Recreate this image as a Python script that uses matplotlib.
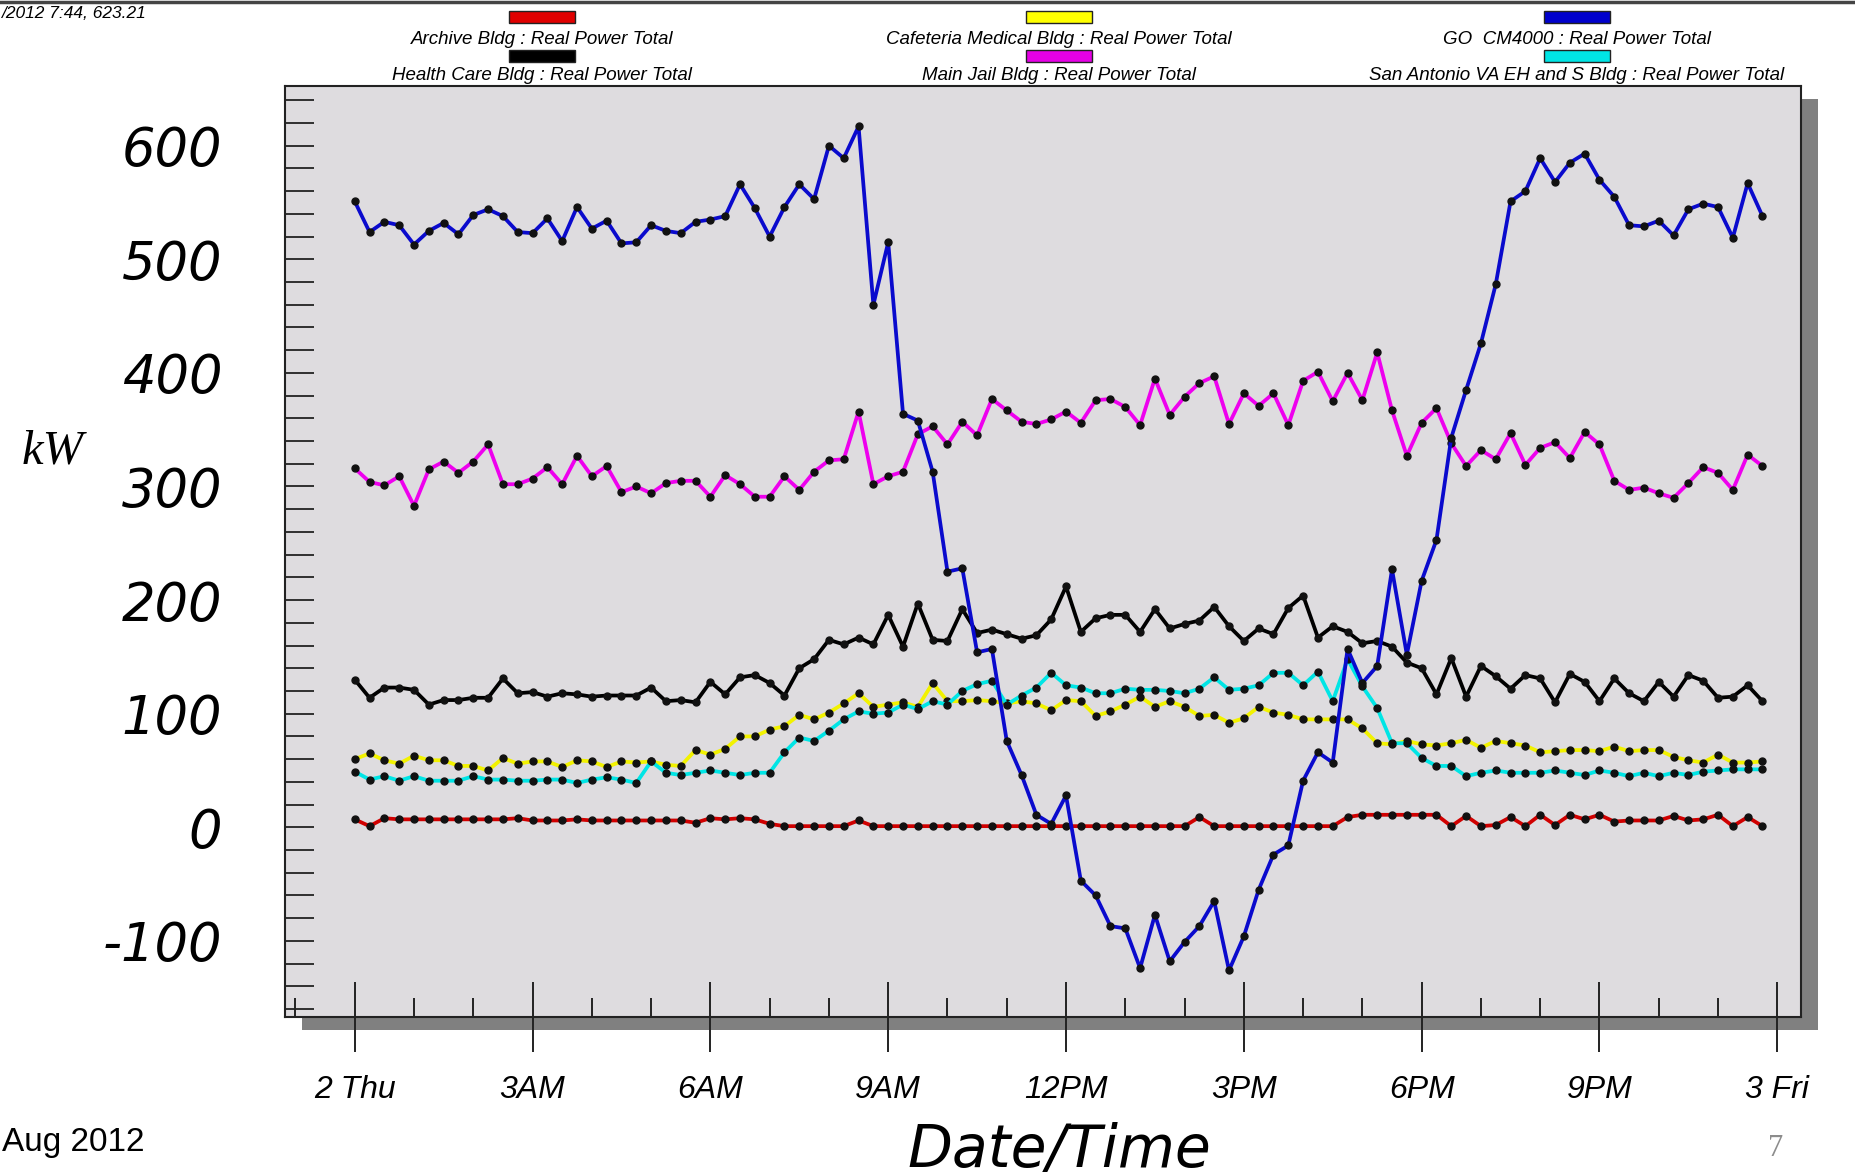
import datetime
import numpy as np
import pandas as pd
import matplotlib
matplotlib.use('Agg')
import matplotlib.pyplot as plt
import matplotlib.dates as mdates
from matplotlib.ticker import MultipleLocator, FuncFormatter
from matplotlib.patches import Rectangle
from matplotlib.lines import Line2D

plt.rcParams['font.family'] = ['Liberation Sans', 'DejaVu Sans']
plt.rcParams['font.style'] = 'italic'
plt.rcParams['axes.unicode_minus'] = False

# 15分間隔のデータ (2 Aug 2012 00:00 - 23:45)
times = pd.date_range('2012-08-02 00:00', periods=96, freq='15min')

go_cm4000 = [551, 524, 533, 530, 513, 525, 532, 522, 539, 544, 538, 524, 523, 536, 516, 546,
             527, 534, 514, 515, 530, 525, 523, 533, 535, 538, 566, 545, 520, 546, 566, 553,
             600, 589, 617, 460, 515, 364, 358, 313, 225, 228, 154, 157, 76, 46, 11, 3,
             28, -47, -60, -87, -89, -124, -77, -118, -101, -87, -65, -126, -96, -55, -24, -16,
             41, 66, 57, 157, 127, 142, 227, 152, 217, 253, 343, 385, 426, 478, 551, 560,
             589, 568, 585, 593, 570, 555, 530, 529, 534, 521, 544, 549, 546, 519, 567, 538]

main_jail = [316, 304, 301, 309, 283, 315, 322, 312, 322, 337, 302, 302, 307, 317, 302, 327,
             309, 318, 295, 300, 294, 303, 305, 305, 291, 310, 302, 291, 291, 309, 297, 313,
             323, 324, 366, 302, 309, 313, 346, 353, 337, 357, 345, 377, 367, 357, 355, 359,
             366, 356, 376, 377, 370, 354, 395, 363, 379, 391, 397, 355, 382, 371, 382, 354,
             393, 401, 375, 400, 376, 418, 367, 327, 356, 369, 338, 318, 332, 324, 347, 319,
             334, 339, 325, 348, 337, 305, 297, 299, 294, 290, 303, 317, 312, 297, 328, 318]

health_care = [130, 114, 123, 123, 121, 108, 112, 112, 114, 114, 131, 118, 119, 115, 118, 117,
               115, 116, 116, 116, 123, 111, 112, 110, 128, 117, 132, 134, 127, 116, 140, 148,
               165, 161, 167, 161, 187, 159, 197, 165, 164, 192, 171, 174, 170, 166, 169, 183,
               212, 172, 184, 187, 187, 172, 192, 175, 179, 182, 194, 177, 164, 175, 170, 193,
               204, 167, 177, 172, 162, 164, 159, 145, 140, 117, 149, 115, 142, 133, 122, 134,
               131, 110, 135, 128, 111, 131, 118, 111, 128, 115, 134, 129, 114, 115, 125, 111]

cafeteria = [60, 65, 59, 56, 63, 59, 59, 54, 54, 50, 61, 56, 58, 58, 53, 59,
             58, 53, 58, 57, 58, 55, 54, 68, 64, 69, 80, 80, 86, 89, 99, 95,
             101, 109, 118, 106, 108, 110, 106, 127, 111, 111, 112, 111, 109, 111, 109, 103,
             112, 111, 98, 102, 108, 115, 106, 111, 106, 98, 99, 92, 96, 106, 101, 99,
             95, 95, 95, 95, 87, 74, 73, 76, 73, 72, 74, 77, 70, 76, 74, 72,
             66, 67, 68, 68, 67, 71, 67, 68, 68, 62, 59, 57, 64, 57, 57, 58]

san_antonio = [49, 42, 45, 41, 45, 41, 41, 41, 45, 42, 42, 41, 41, 42, 42, 39,
               42, 44, 42, 39, 58, 48, 46, 48, 50, 48, 46, 48, 48, 66, 79, 76,
               85, 95, 102, 100, 101, 108, 104, 111, 108, 120, 126, 129, 108, 116, 123, 136,
               125, 123, 118, 118, 122, 121, 121, 120, 118, 122, 132, 121, 122, 125, 136, 136,
               125, 137, 111, 148, 124, 105, 74, 74, 61, 54, 54, 45, 48, 50, 48, 48,
               48, 50, 48, 46, 50, 48, 45, 48, 45, 48, 46, 49, 50, 51, 51, 51]

archive = [7, 1, 8, 7, 7, 7, 7, 7, 7, 7, 7, 8, 6, 6, 6, 7,
           6, 6, 6, 6, 6, 6, 6, 4, 8, 7, 8, 7, 3, 1, 1, 1,
           1, 1, 6, 1, 1, 1, 1, 1, 1, 1, 1, 1, 1, 1, 1, 1,
           1, 1, 1, 1, 1, 1, 1, 1, 1, 9, 1, 1, 1, 1, 1, 1,
           1, 1, 1, 9, 11, 11, 11, 11, 11, 11, 1, 10, 1, 2, 9, 1,
           11, 2, 11, 7, 11, 5, 6, 6, 6, 10, 6, 7, 11, 1, 9, 1]

series = [
    ('Archive Bldg : Real Power Total', archive, '#D00000', '#E00000'),
    ('Cafeteria Medical Bldg : Real Power Total', cafeteria, '#F2F200', '#FFFF00'),
    ('San Antonio VA EH and S Bldg : Real Power Total', san_antonio, '#00E5E5', '#00E5E5'),
    ('Health Care Bldg : Real Power Total', health_care, '#000000', '#000000'),
    ('Main Jail Bldg : Real Power Total', main_jail, '#EE00EE', '#E600E6'),
    ('GO  CM4000 : Real Power Total', go_cm4000, '#0A0ACD', '#0000CC'),
]
legend_order = [0, 1, 5, 3, 4, 2]

W, H = 1856, 1175
fig = plt.figure(figsize=(W / 100, H / 100), dpi=100)

# パネル位置 (ピクセル)
px_l, px_r, px_t, px_b = 284.6, 1801, 85.5, 1017
ax = fig.add_axes([px_l / W, 1 - px_b / H, (px_r - px_l) / W, (px_b - px_t) / H])
ax.set_facecolor('#DEDCDF')

# 影
fig.add_artist(Rectangle(((px_l + 17) / W, 1 - (px_b + 13) / H), (px_r - px_l) / W,
                         (px_b - px_t) / H, transform=fig.transFigure,
                         facecolor='#808080', edgecolor='none', zorder=-1))

for name, vals, col, _ in series:
    ax.plot(times, vals, color=col, lw=2.7, marker='o', ms=5,
            mfc='#111111', mec='#111111', zorder=3)

ax.set_xlim(datetime.datetime(2012, 8, 1, 22, 49), datetime.datetime(2012, 8, 3, 0, 24))
ax.set_ylim(-167, 653)

ax.xaxis.set_major_locator(mdates.HourLocator(byhour=range(0, 24, 3)))
ax.xaxis.set_minor_locator(mdates.HourLocator())


def fmt_time(x, pos=None):
    d = mdates.num2date(x)
    if d.hour == 0:
        return f"{d.day} {d.strftime('%a')[:3]}"
    h = d.hour % 12
    if h == 0:
        h = 12
    return f"{h}{'AM' if d.hour < 12 else 'PM'}"


ax.xaxis.set_major_formatter(FuncFormatter(fmt_time))
ax.yaxis.set_major_locator(MultipleLocator(100))
ax.yaxis.set_minor_locator(MultipleLocator(20))

ax.tick_params(axis='x', which='major', direction='inout', length=50, width=1.4,
               pad=17, labelsize=23, color='#222222')
ax.tick_params(axis='x', which='minor', direction='in', length=14, width=1.4, color='#222222')
ax.tick_params(axis='y', which='both', direction='in', length=21, width=1.3, color='#222222')
ax.tick_params(axis='y', which='major', pad=45, labelsize=38)
ax.tick_params(top=False, right=False, which='both')
for lbl in ax.get_yticklabels():
    lbl.set_family('DejaVu Sans')

for s in ax.spines.values():
    s.set_linewidth(1.5)
    s.set_color('#222222')

# 凡例 (3列 x 2行)
col_x = [542, 1059, 1577]
sw_y = [17, 55.5]
tx_y = [40, 75]
for k, idx in enumerate(legend_order):
    name, _, _, sw = series[idx]
    r, c = divmod(k, 3)
    fig.add_artist(Rectangle(((col_x[c] - 33) / W, 1 - (sw_y[r] + 6) / H), 66 / W, 12 / H,
                             transform=fig.transFigure, facecolor=sw,
                             edgecolor='#222222', lw=1))
    fig.text(col_x[c] / W, 1 - tx_y[r] / H, name, ha='center', va='center', fontsize=13.5)

# 上端の線
fig.add_artist(Line2D([0, 1], [1 - 1.5 / H, 1 - 1.5 / H], transform=fig.transFigure,
                      color='#444444', lw=2.5))

fig.text(2 / W, 1 - 14 / H, '/2012 7:44, 623.21', ha='left', va='center', fontsize=12.5)
fig.text(53 / W, 1 - 451 / H, 'kW', ha='center', va='center', fontsize=35,
         family='Liberation Serif', style='italic')
fig.text(1059 / W, 1 - 1150 / H, 'Date/Time', ha='center', va='center', fontsize=42,
         family='DejaVu Sans')
fig.text(2 / W, 1 - 1143 / H, 'Aug 2012', ha='left', va='center', fontsize=24, style='normal')
fig.text(1776 / W, 1 - 1149 / H, '7', ha='center', va='center', fontsize=22,
         family='Liberation Serif', style='normal', color='#8C8C8C')

fig.savefig('out.png', dpi=100, facecolor='white')
